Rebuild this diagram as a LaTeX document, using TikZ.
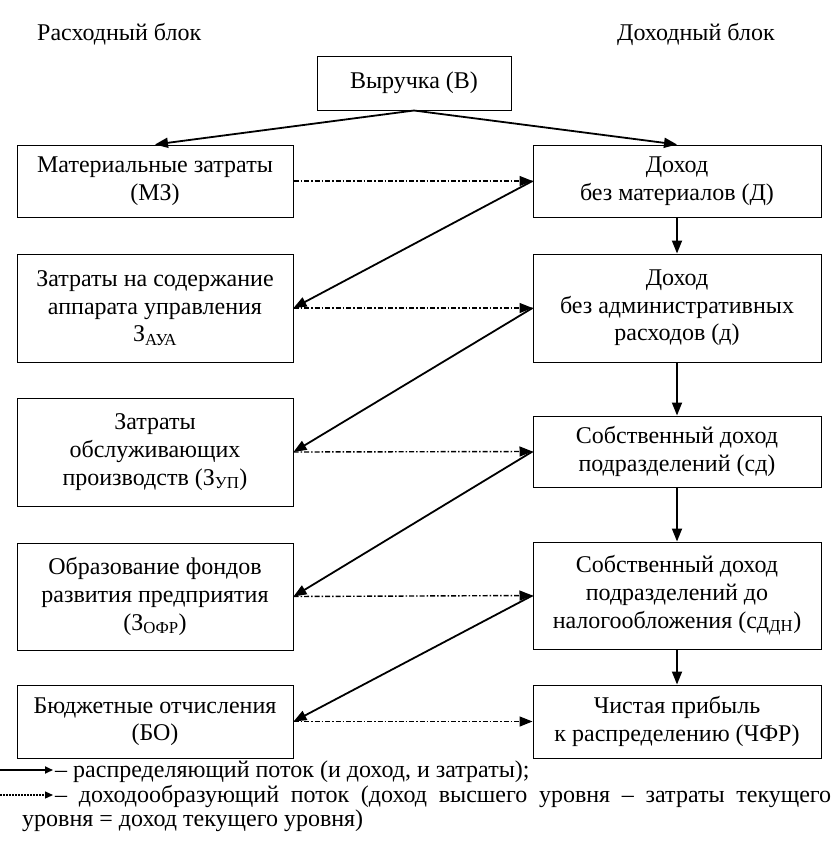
\documentclass[tikz,border=0pt]{standalone}
\usepackage{fontspec}
\setmainfont{Liberation Serif}
\usetikzlibrary{arrows.meta}
\tikzset{
  box/.style={draw, line width=1pt, rectangle, inner sep=0pt, align=center, font=\fontsize{24}{27.6}\selectfont},
  lbox/.style={box, minimum width=276pt},
  rbox/.style={box, minimum width=288pt},
  flow/.style={line width=1.8pt, -{Triangle[length=13pt,width=10pt]}},
  income/.style={line width=1.4pt, dash pattern=on 5pt off 2pt on 1.5pt off 2pt, -{Triangle[length=13pt,width=10pt]}},
  lbl/.style={inner sep=0pt, font=\fontsize{24}{27.6}\selectfont},
}
\begin{document}
\begin{tikzpicture}[x=1pt,y=-1pt]
\useasboundingbox (0,0) rectangle (836,846);
\node[lbl, anchor=west] (hl) at (37,34) {Расходный блок};
\node[lbl, anchor=west] (hr) at (617,34) {Доходный блок};

\node[box, minimum width=194pt, minimum height=54pt] (top) at (414,83) {Выручка (В)};

\node[lbox, minimum height=72pt] (L1) at (155,181) {Материальные затраты\\(МЗ)};
\node[lbox, minimum height=108pt] (L2) at (155,308) {Затраты на содержание\\аппарата управления\\З\textsubscript{АУА}};
\node[lbox, minimum height=108pt] (L3) at (155,452) {Затраты\\обслуживающих\\производств (З\textsubscript{УП})};
\node[lbox, minimum height=107pt] (L4) at (155,596.5) {Образование фондов\\развития предприятия\\(З\textsubscript{ОФР})};
\node[lbox, minimum height=73pt] (L5) at (155,721.5) {Бюджетные отчисления\\(БО)};

\node[rbox, minimum height=72pt] (R1) at (677,181) {Доход\\без материалов (Д)};
\node[rbox, minimum height=108pt] (R2) at (677,308) {Доход\\без административных\\расходов (д)};
\node[rbox, minimum height=71pt] (R3) at (677,451.5) {Собственный доход\\подразделений (сд)};
\node[rbox, minimum height=107pt] (R4) at (677,595.5) {Собственный доход\\подразделений до\\налогообложения (сд\textsubscript{ДН})};
\node[rbox, minimum height=73pt] (R5) at (677,721.5) {Чистая прибыль\\к распределению (ЧФР)};

\draw[flow] (top.south) -- (L1.north);
\draw[flow] (top.south) -- (R1.north);

\draw[income] (L1.east) -- (R1.west);
\draw[income] (L2.east) -- (R2.west);
\draw[income] (L3.east) -- (R3.west);
\draw[income] (L4.east) -- (R4.west);
\draw[income] (L5.east) -- (R5.west);

\draw[flow] (R1.west) -- (L2.east);
\draw[flow] (R2.west) -- (L3.east);
\draw[flow] (R3.west) -- (L4.east);
\draw[flow] (R4.west) -- (L5.east);

\draw[flow] (R1.south) -- (R2.north);
\draw[flow] (R2.south) -- (R3.north);
\draw[flow] (R3.south) -- (R4.north);
\draw[flow] (R4.south) -- (R5.north);

\coordinate (a1) at (0,770);
\coordinate (a2) at (53,770);
\coordinate (b1) at (0,795);
\coordinate (b2) at (53,795);
\draw[line width=1.8pt, -{Triangle[length=8pt,width=7pt]}] (a1) -- (a2);
\draw[line width=1.2pt, dash pattern=on 1.5pt off 1.5pt, -{Triangle[length=8pt,width=7pt]}] (b1) -- (b2);
\node[lbl, anchor=base west] (t1) at (55,777) {– распределяющий поток (и доход, и затраты);};
\node[lbl, anchor=base west] (t2) at (55,802) {\makebox[776pt][s]{– доходообразующий поток (доход высшего уровня – затраты текущего}};
\node[lbl, anchor=base west] (t3) at (22,826) {уровня = доход текущего уровня)};
\end{tikzpicture}
\end{document}
